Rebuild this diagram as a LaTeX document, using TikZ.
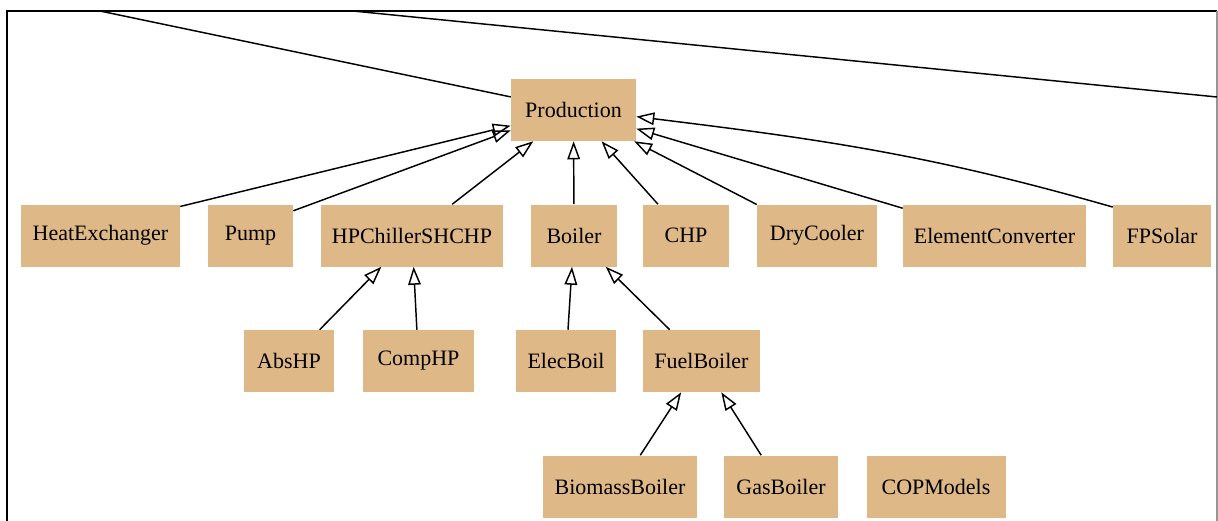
\documentclass[tikz,border=0pt]{standalone}
\usepackage{fontspec}
\setmainfont{Liberation Serif}
\usetikzlibrary{arrows.meta, positioning}
\definecolor{classtan}{RGB}{222,184,135}
\definecolor{framegray}{RGB}{150,150,150}

\begin{document}
\begin{tikzpicture}[x=0.75pt,y=-0.75pt,
    cls/.style={fill=classtan, inner sep=0pt, minimum width=#1*0.75pt,
                minimum height=62*0.75pt, font=\fontsize{16.5}{18}\selectfont},
    isa/.style={-{Triangle[open,length=13.5pt,width=9.5pt]}, line width=1.1pt}]
  \useasboundingbox (0,0) rectangle (1218,521);
  % Frame
  \draw[line width=1.8pt] (7,521) -- (7,11) -- (1217,11);
  \draw[framegray,line width=0.8pt] (1217,11) -- (1217,521);
  % Base class
  \node[cls=125] (prod) at (573.5,110) {Production};
  % First level
  \node[cls=159] (he)   at (100.5,235.5) {HeatExchanger};
  \node[cls=85]  (pump) at (250.5,235.5) {Pump};
  \node[cls=182] (hpc)  at (412,235.5)   {HPChillerSHCHP};
  \node[cls=86]  (boil) at (574,235.5)   {Boiler};
  \node[cls=86]  (chp)  at (686,235.5)   {CHP};
  \node[cls=120] (dry)  at (817,235.5)   {DryCooler};
  \node[cls=183] (elc)  at (994.5,235.5) {ElementConverter};
  \node[cls=98]  (fps)  at (1162,235.5)  {FPSolar};
  % Second level
  \node[cls=90]  (abs)  at (289,361)     {AbsHP};
  \node[cls=111] (comp) at (418.5,361)   {CompHP};
  \node[cls=100] (elec) at (566,361)     {ElecBoil};
  \node[cls=117] (fuel) at (701.5,361)   {FuelBoiler};
  % Third level
  \node[cls=154] (bio)  at (620,486.5)   {BiomassBoiler};
  \node[cls=114] (gas)  at (781,486.5)   {GasBoiler};
  \node[cls=139] (cop)  at (936,486.5)   {COPModels};
  % Edges leaving the view
  \coordinate (upA) at (100,11);
  \coordinate (upB) at (353,11);
  \coordinate (sideB) at (1217,97);
  \draw[line width=1.1pt] (prod) -- (upA);
  \draw[line width=1.1pt] (upB) -- (sideB);
  % Inheritance
  \draw[isa] (he.20) -- (prod.194);
  \draw[isa] (pump.30) -- (prod.198);
  \foreach \c in {hpc,boil,chp,dry,elc}
    \draw[isa] (\c) -- (prod);
  \draw[isa] (fps.150) to[out=164,in=-7] (prod.-6);
  \draw[isa] (abs) -- (hpc);
  \draw[isa] (comp) -- (hpc);
  \draw[isa] (elec) -- (boil);
  \draw[isa] (fuel) -- (boil);
  \draw[isa] (bio) -- (fuel);
  \draw[isa] (gas) -- (fuel);
\end{tikzpicture}
\end{document}
